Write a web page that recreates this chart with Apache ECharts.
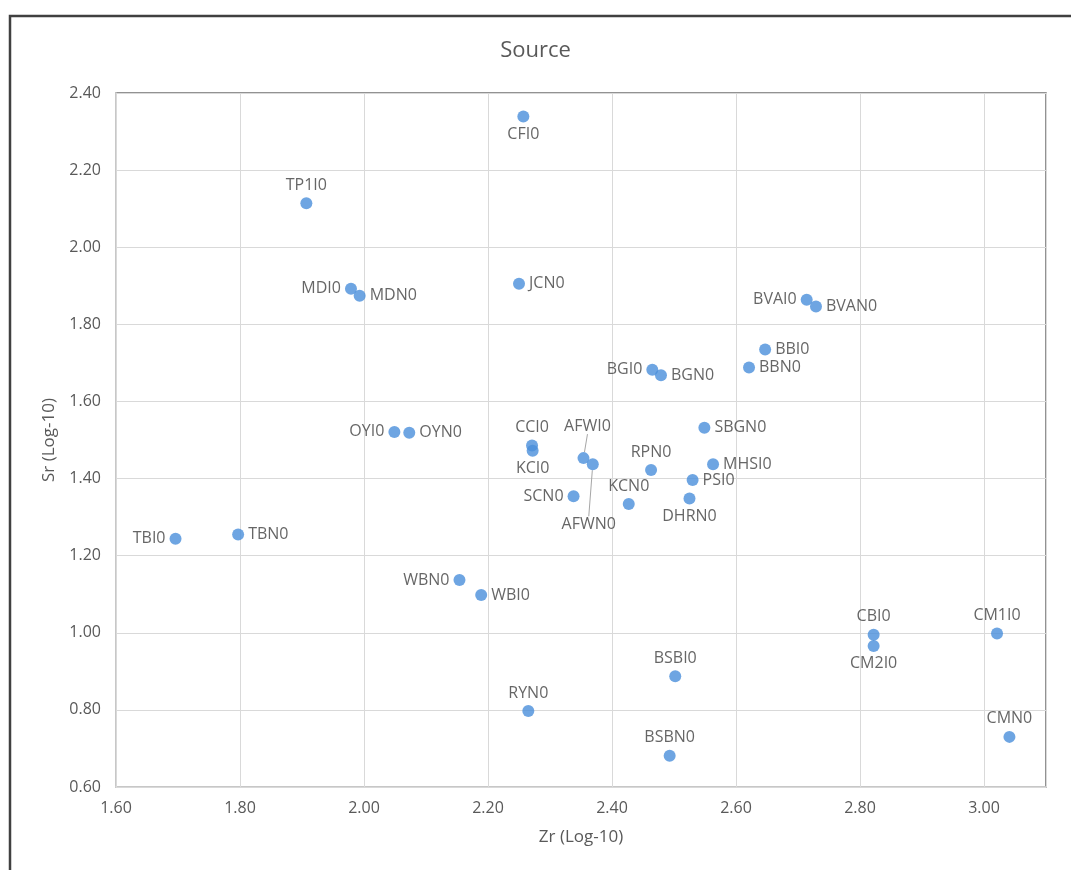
<!DOCTYPE html>
<html>
<head>
<meta charset="utf-8">
<script src="https://cdn.jsdelivr.net/npm/echarts@6/dist/echarts.min.js"></script>
<style>
html,body{margin:0;padding:0;background:#fff;}
#chart{width:1071px;height:870px;}
</style>
</head>
<body>
<div id="chart"></div>
<script>
// ---- data ----
var names = ['TP1I0','MDI0','MDN0','CFI0','JCN0','OYI0','OYN0','BVAI0','BVAN0','BBI0','BBN0','BGI0','BGN0','SBGN0',
  'TBI0','TBN0','WBN0','WBI0','RYN0','CCI0','KCI0','SCN0','AFWI0','AFWN0','KCN0','RPN0','MHSI0','PSI0','DHRN0',
  'CBI0','CM2I0','CM1I0','BSBI0','BSBN0','CMN0'];
var zr = [1.907,1.979,1.993,2.257,2.250,2.049,2.073,2.714,2.729,2.647,2.621,2.465,2.479,2.549,
  1.696,1.797,2.154,2.189,2.265,2.271,2.272,2.338,2.354,2.369,2.427,2.463,2.563,2.530,2.525,
  2.822,2.822,3.021,2.502,2.493,3.041];
var sr = [2.114,1.892,1.874,2.339,1.905,1.521,1.519,1.864,1.846,1.735,1.688,1.682,1.668,1.532,
  1.244,1.255,1.137,1.098,0.797,1.486,1.472,1.354,1.453,1.437,1.334,1.422,1.437,1.396,1.348,
  0.995,0.966,0.998,0.887,0.681,0.730];
var xTicks = ['1.60','1.80','2.00','2.20','2.40','2.60','2.80','3.00'];
var yTicks = ['0.60','0.80','1.00','1.20','1.40','1.60','1.80','2.00','2.20','2.40'];
var chartTitle = 'Source';
var xName = 'Zr (Log-10)';
var yName = 'Sr (Log-10)';

// ---- label placement (style) ----
var labelPos = {
  TP1I0:'top', MDI0:'left', MDN0:'right', CFI0:'bottom', JCN0:'right', OYI0:'left', OYN0:'right',
  BVAI0:'left', BVAN0:'right', BBI0:'right', BBN0:'right', BGI0:'left', BGN0:'right', SBGN0:'right',
  TBI0:'left', TBN0:'right', WBN0:'left', WBI0:'right', RYN0:'top', CCI0:'top', KCI0:'bottom',
  SCN0:'left', AFWI0:'top', AFWN0:'bottom', KCN0:'top', RPN0:'top', MHSI0:'right', PSI0:'right',
  DHRN0:'bottom', CBI0:'top', CM2I0:'bottom', CM1I0:'top', BSBI0:'top', BSBN0:'top', CMN0:'top'
};
var labelShift = { AFWI0:{dx:4,dy:-14}, AFWN0:{dx:-4,dy:42} };

var font = '"Open Sans", "DejaVu Sans", sans-serif';
var points = names.map(function(n,i){
  var item = { name:n, value:[zr[i], sr[i]], label:{ position: labelPos[n] } };
  if (labelShift[n]) item.labelLine = { show:true };
  return item;
});

var chart = echarts.init(document.getElementById('chart'), null, {renderer:'canvas'});
chart.setOption({
  backgroundColor:'#ffffff',
  animation:false,
  title:{ text:chartTitle, left:'center', top:35,
    textStyle:{ fontFamily:font, fontSize:22, fontWeight:'normal', color:'#595959' } },
  graphic:[{ type:'rect', shape:{x:10,y:16,width:1100,height:900},
    style:{ fill:'none', stroke:'#404040', lineWidth:2.5 }, silent:true, z:100 }],
  grid:{ left:116, right:25, top:93, bottom:83, show:true, borderColor:'#6f6f6f', borderWidth:1.5, backgroundColor:'transparent' },
  xAxis:{
    type:'value', min:1.6, max:3.1, interval:0.2,
    name:xName, nameLocation:'middle', nameGap:42,
    nameTextStyle:{ fontFamily:font, fontSize:17, color:'#595959' },
    axisLine:{ show:true, lineStyle:{ color:'#d9d9d9', width:1.5 } },
    axisTick:{ show:false },
    splitLine:{ show:true, lineStyle:{ color:'#d9d9d9', width:1 } },
    axisLabel:{ fontFamily:font, fontSize:16, color:'#595959', margin:13, showMaxLabel:false,
      formatter:function(v){ var s=v.toFixed(2); return xTicks.indexOf(s)>=0 ? s : ''; } }
  },
  yAxis:{
    type:'value', min:0.6, max:2.4, interval:0.2,
    name:yName, nameLocation:'middle', nameGap:58, nameRotate:90,
    nameTextStyle:{ fontFamily:font, fontSize:17, color:'#595959' },
    axisLine:{ show:true, lineStyle:{ color:'#d9d9d9', width:1.5 } },
    axisTick:{ show:false },
    splitLine:{ show:true, lineStyle:{ color:'#d9d9d9', width:1 } },
    axisLabel:{ fontFamily:font, fontSize:16, color:'#595959', margin:15,
      formatter:function(v){ var s=v.toFixed(2); return yTicks.indexOf(s)>=0 ? s : ''; } }
  },
  series:[{
    type:'scatter',
    symbol:'circle',
    symbolSize:12,
    itemStyle:{ color:'#4a8edb' },
    label:{ show:true, formatter:'{b}', fontFamily:font, fontSize:16, color:'#404040', distance:4 },
    labelLine:{ show:false, lineStyle:{ color:'#a6a6a6', width:1 } },
    labelLayout:function(p){
      var n = names[p.dataIndex];
      return labelShift[n] ? { dx:labelShift[n].dx, dy:labelShift[n].dy } : {};
    },
    data:points
  }]
});
</script>
</body>
</html>
